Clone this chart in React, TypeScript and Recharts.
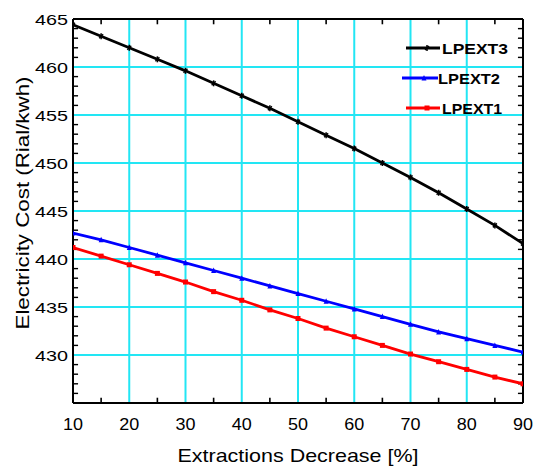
import React from 'react';
import { LineChart, Line, XAxis, YAxis, ReferenceLine, Legend } from 'recharts';

const extraction = [10, 15, 20, 25, 30, 35, 40, 45, 50, 55, 60, 65, 70, 75, 80, 85, 90];
const lpext3 = [464.4, 463.2, 462.0, 460.8, 459.6, 458.3, 457.0, 455.7, 454.3, 452.9, 451.5, 450.0, 448.5, 446.9, 445.2, 443.5, 441.6];
const lpext2 = [442.7, 442.0, 441.2, 440.4, 439.6, 438.8, 438.0, 437.2, 436.4, 435.6, 434.8, 434.0, 433.2, 432.4, 431.7, 431.0, 430.3];
const lpext1 = [441.2, 440.3, 439.4, 438.5, 437.6, 436.6, 435.7, 434.7, 433.8, 432.8, 431.9, 431.0, 430.1, 429.3, 428.5, 427.7, 427.0];

const xTickLabels = [10, 20, 30, 40, 50, 60, 70, 80, 90];
const xMinorTicks = [15, 25, 35, 45, 55, 65, 75, 85];
const xGrid = [20, 30, 40, 50, 60, 70, 80];
const yTickLabels = [430, 435, 440, 445, 450, 455, 460, 465];
const yMinorTicks = Array.from({ length: 41 }, (_, i) => 425 + i).filter((v) => v % 5 !== 0);
const yGrid = [430, 435, 440, 445, 450, 455, 460];

const X_MIN = 10, X_MAX = 90, Y_MIN = 425, Y_MAX = 465;
const X_TICK_LEN = 0.9;  // in x units (~5px)
const Y_TICK_LEN = 0.55; // in y units (~5px)

const seriesNames = ['LPEXT3', 'LPEXT2', 'LPEXT1'];
const seriesColors = ['#000000', '#0000ff', '#ff0000'];

const data = extraction.map((x, i) => ({ x, LPEXT3: lpext3[i], LPEXT2: lpext2[i], LPEXT1: lpext1[i] }));

const FONT = '"Liberation Sans", Arial, sans-serif';
const CYAN = '#22e6f4';

const BottomTick = (p: any) => {
  const { x, y, payload } = p;
  const v = payload.value;
  return (
    <text x={x} y={y + 27} textAnchor="middle" fontSize={17} fontFamily={FONT} fill="#000"
      textLength={String(v).length * 10} lengthAdjust="spacingAndGlyphs">{v}</text>
  );
};

const LeftTick = (p: any) => {
  const { x, y, payload } = p;
  const v = payload.value;
  return (
    <text x={x - 5} y={y + 5.5} textAnchor="end" fontSize={15} fontFamily={FONT} fill="#000"
      textLength={33} lengthAdjust="spacingAndGlyphs">{v}</text>
  );
};

const markerShape = (idx: number, cx: number, cy: number, color: string, key?: any) => {
  if (idx === 0) {
    return (
      <g key={key}>
        <line x1={cx - 2} x2={cx + 2} y1={cy + 2} y2={cy - 2} stroke={color} strokeWidth={1.5} />
        <line x1={cx} x2={cx} y1={cy - 3} y2={cy + 3} stroke={color} strokeWidth={1.5} />
      </g>
    );
  }
  if (idx === 1) {
    return <path key={key} d={`M${cx - 2.5},${cy + 2.5} L${cx + 2.5},${cy + 2.5} L${cx},${cy - 3} Z`} fill={color} />;
  }
  return <rect key={key} x={cx - 2.5} y={cy - 2.5} width={5} height={5} fill={color} />;
};

const makeDot = (idx: number) => (p: any) => {
  const { cx, cy, index } = p;
  if (cx == null || cy == null) return <g key={index} />;
  return markerShape(idx, cx, cy, seriesColors[idx], index);
};

const legendRows = [
  { line: [8, 42], text: 44, len: 66 },
  { line: [4, 40], text: 40, len: 62 },
  { line: [8, 42], text: 44, len: 60 },
];

const renderLegend = () => (
  <svg width={125} height={90} style={{ display: 'block' }}>
    {seriesNames.map((n, i) => {
      const r = legendRows[i];
      const cy = 14 + i * 30;
      return (
        <g key={n}>
          <line x1={r.line[0]} x2={r.line[1]} y1={cy} y2={cy} stroke={seriesColors[i]} strokeWidth={3} />
          {markerShape(i, (r.line[0] + r.line[1]) / 2 + 4, cy, seriesColors[i])}
          <text x={r.text} y={cy + 5.5} fontSize={14} fontWeight="bold" fontFamily={FONT} fill="#000"
            textLength={r.len} lengthAdjust="spacingAndGlyphs">{n}</text>
        </g>
      );
    })}
  </svg>
);

const YLabel = (p: any) => {
  const vb = p.viewBox || { x: 0, y: 19, width: 73, height: 384 };
  const cx = 29;
  const cy = vb.y + vb.height / 2 - 8;
  return (
    <text x={cx} y={cy} transform={`rotate(-90 ${cx} ${cy})`} textAnchor="middle" fontSize={19} fontFamily={FONT}
      fill="#000" textLength={253} lengthAdjust="spacingAndGlyphs">Electricity Cost (Rial/kwh)</text>
  );
};

const XLabel = (p: any) => {
  const vb = p.viewBox || { x: 73, y: 403, width: 450, height: 65 };
  const cx = vb.x + vb.width / 2;
  return (
    <text x={cx} y={vb.y + 59} textAnchor="middle" fontSize={19} fontFamily={FONT} fill="#000"
      textLength={241} lengthAdjust="spacingAndGlyphs">Extractions Decrease [%]</text>
  );
};

export default function App() {
  return (
    <div style={{ position: 'absolute', left: 0, top: 0, width: 533, height: 468, background: '#fff' }}>
      <LineChart width={533} height={468} data={data} margin={{ top: 19, right: 10, left: 0, bottom: 0 }}>
        <XAxis dataKey="x" type="number" domain={[X_MIN, X_MAX]} ticks={xTickLabels} interval={0} height={65}
          tickSize={0} tickMargin={0} tickLine={false} tick={<BottomTick />} axisLine={{ stroke: '#000', strokeWidth: 2 }}
          label={<XLabel />} allowDataOverflow />
        <YAxis type="number" domain={[Y_MIN, Y_MAX]} ticks={yTickLabels} interval={0} width={73}
          tickSize={0} tickMargin={0} tickLine={false} tick={<LeftTick />} axisLine={{ stroke: '#000', strokeWidth: 2 }}
          label={<YLabel />} allowDataOverflow />
        {xGrid.map((v) => (
          <ReferenceLine key={'gx' + v} x={v} stroke={CYAN} strokeWidth={2} />
        ))}
        {yGrid.map((v) => (
          <ReferenceLine key={'gy' + v} y={v} stroke={CYAN} strokeWidth={2} />
        ))}
        {xMinorTicks.map((v) => (
          <ReferenceLine key={'tb' + v} segment={[{ x: v, y: Y_MIN }, { x: v, y: Y_MIN + Y_TICK_LEN }]} stroke="#000" strokeWidth={1.6} />
        ))}
        {xMinorTicks.map((v) => (
          <ReferenceLine key={'tt' + v} segment={[{ x: v, y: Y_MAX }, { x: v, y: Y_MAX - Y_TICK_LEN }]} stroke="#000" strokeWidth={1.6} />
        ))}
        {yMinorTicks.map((v) => (
          <ReferenceLine key={'tl' + v} segment={[{ x: X_MIN, y: v }, { x: X_MIN + X_TICK_LEN, y: v }]} stroke="#000" strokeWidth={1.4} />
        ))}
        {yMinorTicks.map((v) => (
          <ReferenceLine key={'tr' + v} segment={[{ x: X_MAX, y: v }, { x: X_MAX - X_TICK_LEN, y: v }]} stroke="#000" strokeWidth={1.4} />
        ))}
        <ReferenceLine y={Y_MAX} stroke="#000" strokeWidth={2} />
        <ReferenceLine x={X_MAX} stroke="#000" strokeWidth={2} />
        <Legend content={renderLegend} layout="vertical" align="center" verticalAlign="middle"
          wrapperStyle={{ position: 'absolute', left: 398, top: 34, width: 125, height: 90 }} />
        {seriesNames.map((n, i) => (
          <Line key={n} dataKey={n} type="linear" stroke={seriesColors[i]} strokeWidth={2.8}
            dot={makeDot(i)} activeDot={false} isAnimationActive={false} />
        ))}
      </LineChart>
    </div>
  );
}
